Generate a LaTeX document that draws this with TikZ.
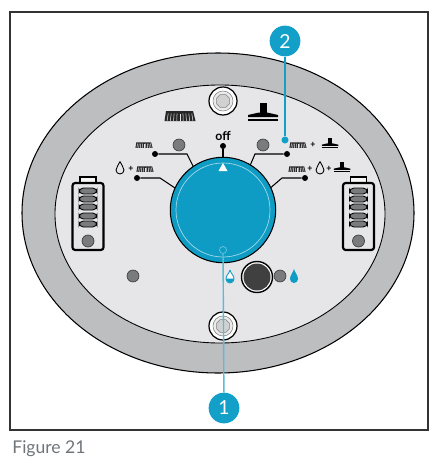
\documentclass[tikz,border=0pt]{standalone}
\usepackage{fontspec}
\setmainfont{Lato}
\definecolor{ringgray}{HTML}{BDBEC0}
\definecolor{facegray}{HTML}{E6E6E9}
\definecolor{knobblue}{HTML}{0E9CC4}
\definecolor{calloutblue}{HTML}{12A0C8}
\definecolor{ledgray}{HTML}{7A7B7D}
\definecolor{capgray}{HTML}{6F7478}
\tikzset{
  led/.style={circle,draw=black!75,fill=ledgray,line width=0.4pt,minimum size=6.8pt,inner sep=0pt},
  tick/.style={circle,fill=black,minimum size=3.4pt,inner sep=0pt},
  callout/.style={circle,fill=calloutblue,text=white,minimum size=17.5pt,inner sep=0pt,font=\fontsize{11}{11}\selectfont},
  leader/.style={draw=calloutblue,line width=0.8pt},
  wire/.style={line width=0.6pt},
  pluslabel/.style={font=\fontsize{5}{5}\selectfont\bfseries,inner sep=0pt},
  pics/brushicon/.style={code={
    \fill[black!85] (-14,-5) -- (13,-5) -- (15.5,5) -- (-15.5,5) -- cycle;
    \foreach \i in {-12,-9,...,12} \draw[facegray,line width=0.3pt] ({\i*0.98},-2.5) -- ({\i*1.08},5);
  }},
  pics/squeegeeicon/.style={code={
    \fill (-3.5,-9) rectangle (3.5,2);
    \fill (-15,5) -- (-15,3) -- (-4,0.5) -- (4,0.5) -- (15,3) -- (15,5) -- cycle;
    \fill (-15,7) rectangle (15,9);
  }},
  pics/dropicon/.style={code={
    \draw[line width=0.5pt,fill=facegray] (0,-6.5) .. controls (1,-3) and (4,-1) .. (4,2)
      arc[start angle=0,end angle=180,radius=4] .. controls (-4,-1) and (-1,-3) .. (0,-6.5);
  }},
  pics/screw/.style={code={
    \draw[line width=0.7pt,fill=white] (0,0) circle (14);
    \draw[line width=0.3pt,fill=black!8,draw=black!50] (0,0) circle (10);
    \draw[line width=0.3pt,draw=black!50,fill=black!18] (22.5:7) \foreach \a in {67.5,112.5,...,382.5} {-- (\a:7)} -- cycle;
  }},
  pics/battery/.style={code={
    \draw[line width=1pt,fill=white!70!facegray] (-8,-6) rectangle (8,0);
    \draw[line width=1.2pt,rounded corners=1.5pt,fill=facegray] (-15.5,0) rectangle (15.5,67);
    \foreach \y in {8,16,24,33,41} \draw[line width=0.5pt,fill=ledgray,rounded corners=2.5pt] (-9,\y-3) rectangle (9,\y+3);
    \draw[line width=0.4pt,draw=black!75,fill=ledgray] (0,58) circle (6);
  }}
}
\begin{document}
\begin{tikzpicture}[x=0.2mm,y=-0.2mm]
\useasboundingbox (0,0) rectangle (447,464);

% Frame
\draw[line width=0.8pt,draw=black!80] (10,12) rectangle (428,430);
\node[anchor=base west,inner sep=0pt,text=capgray,font=\fontsize{10}{10}\selectfont] (caption) at (12,453) {Figure 21};

% Housing
\draw[line width=0.6pt,fill=ringgray] (218,213) ellipse [x radius=196,y radius=160];
\draw[line width=0.5pt,fill=facegray] (220,214) ellipse [x radius=165,y radius=129];

% Screws
\pic at (223,101) {screw};
\pic at (223,326) {screw};

% Large icons
\pic at (180,116) {brushicon};
\pic at (263,112) {squeegeeicon};

% Selector wires
\node[tick] (off) at (223,146) {};
\node[tick] (tl) at (155,154) {};
\node[tick] (tr) at (287,154) {};
\node[tick] (ml) at (137,178) {};
\node[tick] (mr) at (305,178) {};
\draw[wire] (off) -- (223,160);
\draw[wire] (tl) -- (187,154) -- (194,168);
\draw[wire] (tr) -- (255,154) -- (249,168);
\draw[wire] (ml) -- (160,178) -- (178,190);
\draw[wire] (mr) -- (282,178) -- (268,190);
\node[font=\fontsize{7}{7}\selectfont\bfseries,inner sep=0pt] (offlabel) at (223,136) {off};

% Leds
\node[led] (ledtl) at (179,145) {};
\node[led] (ledtr) at (263,145) {};
\node[led] (ledlow) at (133,276) {};
\node[led] (leddrop) at (280,276) {};

% Knob
\node[circle,draw=black,line width=0.6pt,fill=knobblue,minimum size=60pt,inner sep=0pt] (knob) at (223,210) {};
\draw[draw=white!60!knobblue,line width=0.4pt] (knob.center) circle (47);
\fill[white] (223,163) -- (227.5,171) -- (218.5,171) -- cycle;

% Small icons, upper row
\pic[scale=0.55] at (144,145) {brushicon};
\pic[scale=0.55] at (298,145) {brushicon};
\node[pluslabel] (plusa) at (313,145) {+};
\pic[scale=0.55] at (330,143) {squeegeeicon};

% Small icons, lower row
\pic at (120,168) {dropicon};
\node[pluslabel] (plusb) at (131,169) {+};
\pic[scale=0.55] at (145,169) {brushicon};
\pic[scale=0.55] at (297,169) {brushicon};
\node[pluslabel] (plusc) at (310,169) {+};
\pic at (320,168) {dropicon};
\node[pluslabel] (plusd) at (329,169) {+};
\pic[scale=0.55] at (342,167) {squeegeeicon};

% Batteries
\pic at (88,183) {battery};
\pic at (358.5,183) {battery};

% Water button
\draw[line width=0.8pt,fill=white] (257,277) circle (15.5);
\fill[black!75] (257,277) circle (13.5);
\draw[line width=0.5pt,draw=knobblue,fill=white] (230,270) .. controls (231,274) and (234,275) .. (234,279) arc[start angle=0,end angle=180,radius=4] .. controls (226,275) and (229,274) .. (230,270);
\fill[knobblue] (226,278.5) arc[start angle=180,end angle=0,radius=4] -- cycle;
\fill[knobblue] (294,269) .. controls (295,273) and (298,275) .. (298,279) arc[start angle=0,end angle=180,radius=4] .. controls (290,275) and (293,273) .. (294,269);

% Callouts
\node[callout] (one) at (224,408) {1};
\node[callout] (two) at (285,41) {2};
\node[circle,draw=white!40!knobblue,line width=0.4pt,minimum size=4pt,inner sep=0pt] (onetip) at (223,250) {};
\node[circle,fill=calloutblue,minimum size=4pt,inner sep=0pt] (twotip) at (285,140) {};
\draw[leader,draw=white!30!calloutblue] (one) -- (onetip);
\draw[leader] (two) -- (twotip);

\end{tikzpicture}
\end{document}
